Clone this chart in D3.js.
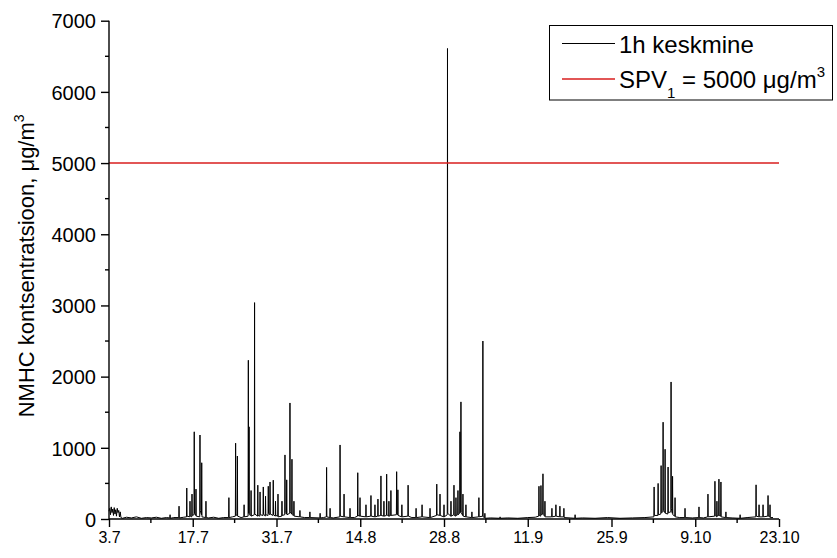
<!DOCTYPE html>
<html>
<head>
<meta charset="utf-8">
<script src="https://cdn.jsdelivr.net/npm/d3@7"></script>
<style>
  html, body { margin: 0; padding: 0; background: #fff; }
  svg { display: block; font-family: "Liberation Sans", Arial, sans-serif; }
</style>
</head>
<body>
<svg id="chart" width="837" height="558"></svg>
<script>
// ---- DATA ----
// hours since 3.7 00:00, hourly mean NMHC (µg/m3)
const nmhcHourly = [
[0,110],[3,150],[6,60],[9,170],[12,90],[15,140],[18,50],[21,160],[24,70],[27,130],[30,40],[33,150],[36,90],[39,120],[42,30],[45,100],[48,20],[54,10],[70,25],[90,15],[110,30],[130,10],[150,20],[170,15],[190,25],[210,10],[230,20],
[244,15],[245,60],[246,10],[260,20],
[280,20],[281,180],[282,15],[300,25],
[311,30],[312,435],[313,40],[324,30],[325,250],[326,40],[332,30],[333,350],[334,50],[341,60],[342,1225],[343,80],[348,50],[349,420],[350,40],[364,30],[365,1180],[366,120],[371,60],[372,790],[373,30],[388,20],[389,250],[390,20],[400,15],[420,25],[440,10],[460,20],
[480,20],[481,300],[482,20],[495,30],[507,40],[508,1065],[509,60],[514,50],[515,885],[516,40],[530,20],[541,30],[542,200],[543,30],[558,40],[559,2230],[560,80],[561,90],[562,1295],[563,60],[569,50],[570,400],[571,40],[583,60],[584,3040],[585,70],[596,40],[597,475],[598,50],[605,40],[606,380],[607,60],[618,50],[619,450],[620,70],[627,40],[628,320],[629,60],[638,50],[639,460],[640,80],[645,60],[646,520],[647,70],[658,50],[659,545],[660,60],[667,40],[668,250],[669,50],[677,40],[678,350],[679,30],[693,40],[694,250],[695,50],[705,60],[706,900],[707,90],[712,70],[713,550],[714,60],[725,80],[726,1630],[727,100],[733,70],[734,840],[735,60],[741,50],[742,250],[743,40],
[765,30],[766,120],[767,30],[785,20],[805,20],[806,100],[807,20],[846,15],[847,80],[848,15],[860,20],[872,30],[873,725],[874,30],[886,20],[887,150],[888,20],[900,15],[926,30],[927,1040],[928,40],[942,30],[943,350],[944,30],[966,20],[967,150],[968,20],[985,20],[997,40],[998,650],[999,50],[1006,40],[1007,300],[1008,40],[1030,30],[1031,200],[1032,30],[1050,40],[1051,330],[1052,40],[1066,30],[1067,200],[1068,30],[1078,40],[1079,280],[1080,40],[1090,50],[1091,605],[1092,50],[1102,40],[1103,250],[1104,40],[1113,50],[1114,630],[1115,60],[1122,40],[1123,250],[1124,40],[1130,50],[1131,400],[1132,50],[1153,60],[1154,665],[1155,80],[1158,60],[1159,410],[1160,50],[1174,30],[1175,200],[1176,30],[1199,40],[1200,475],[1201,40],[1215,20],[1231,20],[1232,150],[1233,20],[1255,30],[1256,200],[1257,30],[1287,20],[1288,150],[1289,20],[1314,50],[1315,490],[1316,60],[1327,50],[1328,350],[1329,50],[1343,30],[1344,200],[1345,30],[1357,60],[1358,6610],[1359,80],[1371,40],[1372,250],[1373,40],[1383,60],[1384,475],[1385,50],[1391,40],[1392,300],[1393,50],[1399,60],[1400,400],[1401,60],[1407,80],[1408,1225],[1409,90],[1411,100],[1412,1645],[1413,90],[1419,50],[1420,350],[1421,40],[1431,30],[1432,200],[1433,30],[1455,20],[1456,100],[1457,20],[1483,30],[1484,300],[1485,30],[1499,40],[1500,2500],[1501,30],[1507,20],[1508,80],[1509,10],[1530,15],[1568,10],[1569,30],[1570,10],[1600,15],[1640,10],[1680,20],[1710,25],
[1724,40],[1725,460],[1726,50],[1732,40],[1733,470],[1734,60],[1740,70],[1741,635],[1742,60],[1748,40],[1749,250],[1750,30],[1776,30],[1777,150],[1778,30],[1792,40],[1793,200],[1794,40],[1808,30],[1809,180],[1810,30],[1824,30],[1825,150],[1826,20],[1850,15],[1869,10],[1870,60],[1871,10],[1900,15],[1950,10],[2000,20],[2050,10],[2100,15],[2150,20],
[2186,30],[2187,450],[2188,50],[2202,50],[2203,500],[2204,60],[2214,70],[2215,750],[2216,90],[2222,100],[2223,1360],[2224,120],[2230,90],[2231,980],[2232,80],[2242,70],[2243,730],[2244,90],[2254,100],[2255,1925],[2256,150],[2260,80],[2261,600],[2262,60],[2270,40],[2271,300],[2272,30],[2290,20],[2310,20],[2311,150],[2312,20],[2340,15],[2366,20],[2367,170],[2368,20],[2385,15],[2402,30],[2403,350],[2404,30],[2430,40],[2431,530],[2432,50],[2438,30],[2439,250],[2440,40],[2446,50],[2447,560],[2448,50],[2454,40],[2455,520],[2456,30],[2474,20],[2475,100],[2476,20],[2500,15],[2531,10],[2532,60],[2533,10],[2560,20],[2595,30],[2596,480],[2597,40],[2607,30],[2608,200],[2609,30],[2623,30],[2624,200],[2625,30],[2643,40],[2644,330],[2645,40],[2651,30],[2652,200],[2653,20],[2664,20]
];
const xTickHours = [0, 336, 672, 1008, 1344, 1680, 2016, 2352, 2688];
const xTickLabels = ["3.7", "17.7", "31.7", "14.8", "28.8", "11.9", "25.9", "9.10", "23.10"];
const yTickValues = [0, 1000, 2000, 3000, 4000, 5000, 6000, 7000];
const limitValue = 5000;
const legendLabels = ["1h keskmine", "SPV"];
const limitColor = "#d81e1e";

// ---- LAYOUT ----
const svg = d3.select("#chart");
const pL = 109, pR = 779, pT = 20.7, pB = 519;
const x = d3.scaleLinear().domain([0, 2688]).range([pL, pR]);
const y = d3.scaleLinear().domain([0, 7000]).range([pB, pT]);

// series
const line = d3.line().x(d => x(d[0])).y(d => y(d[1]));
svg.append("path")
  .datum(nmhcHourly)
  .attr("d", line)
  .attr("fill", "none")
  .attr("stroke", "#000")
  .attr("stroke-width", 1);

// limit line
const yLim = Math.round(y(limitValue));
svg.append("line")
  .attr("x1", x(0)).attr("x2", x(2688))
  .attr("y1", yLim).attr("y2", yLim)
  .attr("stroke", limitColor).attr("stroke-width", 1.4);

// y axis
const yAxis = d3.axisLeft(y).tickValues(yTickValues).tickSize(8).tickPadding(5).tickFormat(d3.format("d"));
const gy = svg.append("g").attr("transform", `translate(${pL},0)`).call(yAxis);
gy.select(".domain").attr("stroke", "#000").attr("stroke-width", 1.4).attr("d", `M0,${pB}V${pT}`);
gy.selectAll(".tick line").attr("stroke-width", 1.4);
gy.selectAll(".tick text").attr("font-size", 20).attr("font-family", "Liberation Sans, Arial, sans-serif").attr("fill", "#000").attr("dy", "0.36em");
const yMinor = d3.range(500, 7000, 1000);
gy.selectAll(".minor").data(yMinor).enter().append("line")
  .attr("x1", -4).attr("x2", 0).attr("y1", d => y(d)).attr("y2", d => y(d))
  .attr("stroke", "#000").attr("stroke-width", 1.4);

// x axis
const xAxis = d3.axisBottom(x).tickValues(xTickHours).tickSize(8).tickPadding(5)
  .tickFormat((d, i) => xTickLabels[i]);
const gx = svg.append("g").attr("transform", `translate(0,${pB})`).call(xAxis);
gx.select(".domain").attr("stroke", "#000").attr("stroke-width", 1.4).attr("d", `M${pL},0H${pR}`);
gx.selectAll(".tick line").attr("stroke-width", 1.4);
gx.selectAll(".tick text").attr("font-size", 16).attr("font-family", "Liberation Sans, Arial, sans-serif").attr("fill", "#000");
const xMinor = d3.range(168, 2688, 336);
gx.selectAll(".minor").data(xMinor).enter().append("line")
  .attr("x1", d => x(d)).attr("x2", d => x(d)).attr("y1", 0).attr("y2", 4)
  .attr("stroke", "#000").attr("stroke-width", 1.4);

// y title
const yt = svg.append("text")
  .attr("transform", `translate(34,${(pT + pB) / 2 - 4}) rotate(-90)`)
  .attr("text-anchor", "middle")
  .attr("font-size", 22)
  .attr("fill", "#000");
yt.append("tspan").text("NMHC kontsentratsioon, \u03bcg/m");
yt.append("tspan").attr("font-size", 14).attr("dy", "-0.75em").text("3");

// legend
const lg = svg.append("g");
lg.append("rect").attr("x", 549.5).attr("y", 25.5).attr("width", 283).attr("height", 74.5)
  .attr("fill", "#fff").attr("stroke", "#000").attr("stroke-width", 1);
lg.append("line").attr("x1", 562).attr("x2", 615).attr("y1", 43.5).attr("y2", 43.5)
  .attr("stroke", "#000").attr("stroke-width", 1);
lg.append("text").attr("x", 619).attr("y", 53).attr("font-size", 24).attr("fill", "#000").text(legendLabels[0]);
lg.append("line").attr("x1", 562).attr("x2", 615).attr("y1", 79).attr("y2", 79)
  .attr("stroke", limitColor).attr("stroke-width", 1.4);
const t2 = lg.append("text").attr("x", 619).attr("y", 87.5).attr("font-size", 24).attr("fill", "#000");
t2.append("tspan").text(legendLabels[1]);
t2.append("tspan").attr("font-size", 15).attr("dy", 10).text("1");
t2.append("tspan").attr("dy", -10).text(" = " + limitValue + " \u03bcg/m");
t2.append("tspan").attr("font-size", 15).attr("dy", -11).text("3");
</script>
</body>
</html>
